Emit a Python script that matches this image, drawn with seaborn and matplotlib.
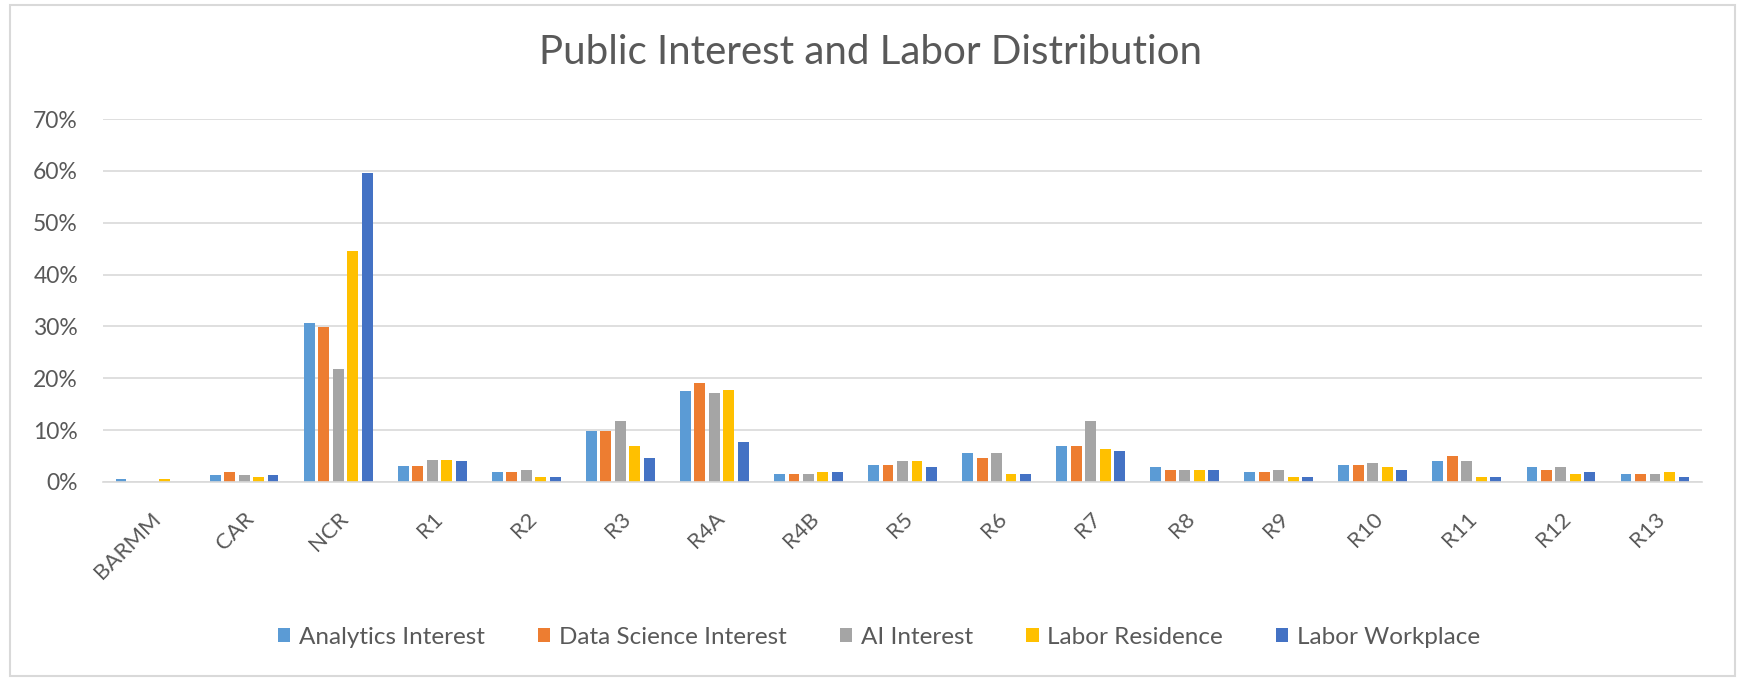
import matplotlib
matplotlib.use("Agg")
import matplotlib.pyplot as plt
from matplotlib.patches import Rectangle
from matplotlib.ticker import PercentFormatter, MultipleLocator
import seaborn as sns
import pandas as pd

regions = ["BARMM", "CAR", "NCR", "R1", "R2", "R3", "R4A", "R4B", "R5",
           "R6", "R7", "R8", "R9", "R10", "R11", "R12", "R13"]

analytics_interest = [0.005, 0.014, 0.306, 0.031, 0.019, 0.099, 0.176, 0.015, 0.033,
                      0.055, 0.069, 0.028, 0.019, 0.033, 0.041, 0.028, 0.015]
data_science_interest = [0.0, 0.019, 0.299, 0.031, 0.019, 0.099, 0.190, 0.015, 0.033,
                         0.047, 0.069, 0.024, 0.019, 0.033, 0.051, 0.024, 0.015]
ai_interest = [0.0, 0.014, 0.217, 0.042, 0.024, 0.118, 0.172, 0.015, 0.041,
               0.055, 0.118, 0.024, 0.024, 0.037, 0.041, 0.028, 0.015]
labor_residence = [0.005, 0.010, 0.446, 0.042, 0.010, 0.069, 0.177, 0.019, 0.041,
                   0.015, 0.064, 0.024, 0.010, 0.028, 0.010, 0.015, 0.019]
labor_workplace = [0.0, 0.014, 0.595, 0.041, 0.009, 0.047, 0.078, 0.019, 0.028,
                   0.015, 0.060, 0.024, 0.010, 0.024, 0.010, 0.019, 0.010]

series_names = ["Analytics Interest", "Data Science Interest", "AI Interest",
                "Labor Residence", "Labor Workplace"]
series_values = [analytics_interest, data_science_interest, ai_interest,
                 labor_residence, labor_workplace]
series_colors = ["#5B9BD5", "#ED7D31", "#A5A5A5", "#FFC000", "#4472C4"]

rows = []
for name, vals in zip(series_names, series_values):
    for region, v in zip(regions, vals):
        rows.append({"Region": region, "Series": name, "Share": v})
df = pd.DataFrame(rows)

sns.set_theme(style="white")
plt.rcParams["font.family"] = ["Lato", "DejaVu Sans"]
text_color = "#595959"
grid_color = "#D9D9D9"

fig = plt.figure(figsize=(17.41, 6.80), dpi=100)
ax = fig.add_axes([103 / 1741, 1 - 482 / 680, (1702 - 103) / 1741, (482 - 119) / 680])

sns.barplot(data=df, x="Region", y="Share", hue="Series", order=regions,
            hue_order=series_names, palette=series_colors, width=0.77, gap=0.25,
            saturation=1, linewidth=0, ax=ax, legend=True)

ax.set_ylim(0, 0.70)
ax.yaxis.set_major_locator(MultipleLocator(0.10))
ax.yaxis.set_major_formatter(PercentFormatter(1.0, decimals=0))
ax.set_axisbelow(True)
ax.yaxis.grid(True, color=grid_color, linewidth=1.2)
ax.xaxis.grid(False)
for side in ["top", "right", "left"]:
    ax.spines[side].set_visible(False)
ax.spines["bottom"].set_color(grid_color)
ax.spines["bottom"].set_linewidth(1.2)
ax.set_xlabel("")
ax.set_ylabel("")

ax.tick_params(axis="y", length=0, pad=18, labelsize=16.5, labelcolor=text_color)
ax.tick_params(axis="x", length=0, pad=19, labelsize=16, labelcolor=text_color)
for lbl in ax.get_xticklabels():
    lbl.set_rotation(45)
    lbl.set_ha("right")
    lbl.set_va("top")
    lbl.set_rotation_mode("anchor")

handles, labels = ax.get_legend_handles_labels()
ax.get_legend().remove()
fig.legend(handles, labels, loc="center", bbox_to_anchor=(0.505, 1 - 637 / 680),
           ncol=5, frameon=False, fontsize=17.5, labelcolor=text_color,
           handlelength=0.5, handleheight=0.5, handletextpad=0.35,
           columnspacing=2.2)

fig.text(0.5, 1 - 52 / 680, "Public Interest and Labor Distribution",
         ha="center", va="center", fontsize=29, color=text_color)

fig.patches.append(Rectangle((10 / 1741, 4 / 680), (1735 - 10) / 1741, (675 - 4) / 680,
                             transform=fig.transFigure, fill=False,
                             edgecolor=grid_color, linewidth=1.5))

fig.savefig("out.png", dpi=100, facecolor="white")
